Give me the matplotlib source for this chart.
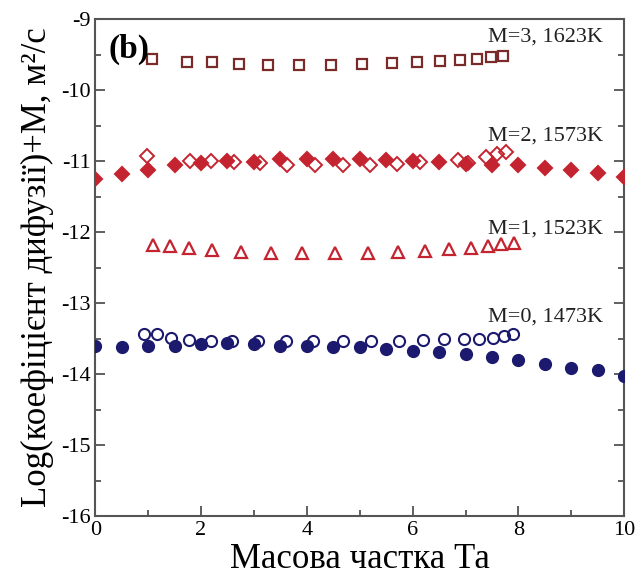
import numpy as np
import matplotlib
matplotlib.use("Agg")
import matplotlib.pyplot as plt
from matplotlib.ticker import MultipleLocator

plt.rcParams['font.family'] = ['Liberation Serif', 'DejaVu Serif']
plt.rcParams['axes.unicode_minus'] = False

# M=0, 1473K
x_m0_fill = [0.0, 0.5, 1.0, 1.5, 2.0, 2.5, 3.0, 3.5, 4.0, 4.5, 5.0,
             5.5, 6.0, 6.5, 7.0, 7.5, 8.0, 8.5, 9.0, 9.5, 10.0]
y_m0_fill = [-13.60, -13.62, -13.60, -13.60, -13.57, -13.56, -13.57, -13.60, -13.61, -13.62, -13.62,
             -13.64, -13.67, -13.69, -13.71, -13.76, -13.80, -13.86, -13.91, -13.94, -14.02]
x_m0_open = [0.93, 1.17, 1.44, 1.78, 2.19, 2.59, 3.08, 3.61, 4.12, 4.69,
             5.21, 5.74, 6.19, 6.60, 6.97, 7.26, 7.52, 7.73, 7.90]
y_m0_open = [-13.44, -13.44, -13.49, -13.52, -13.53, -13.53, -13.54, -13.54, -13.54, -13.53,
             -13.53, -13.53, -13.52, -13.51, -13.51, -13.50, -13.49, -13.46, -13.44]

# M=1, 1523K
x_m1 = [1.10, 1.42, 1.78, 2.21, 2.75, 3.32, 3.90, 4.53, 5.15, 5.72,
        6.24, 6.68, 7.10, 7.43, 7.68, 7.92]
y_m1 = [-12.18, -12.20, -12.23, -12.25, -12.28, -12.30, -12.30, -12.30, -12.29, -12.28,
        -12.27, -12.24, -12.22, -12.20, -12.17, -12.16]

# M=2, 1573K
x_m2_fill = [0.0, 0.5, 1.0, 1.5, 2.0, 2.5, 3.0, 3.5, 4.0, 4.5, 5.0,
             5.5, 6.0, 6.5, 7.0, 7.5, 8.0, 8.5, 9.0, 9.5, 10.0]
y_m2_fill = [-11.25, -11.18, -11.12, -11.06, -11.02, -11.00, -11.01, -10.97, -10.97, -10.97, -10.97,
             -10.99, -11.00, -11.01, -11.04, -11.06, -11.06, -11.10, -11.13, -11.17, -11.22]
x_m2_open = [0.97, 1.80, 2.19, 2.63, 3.12, 3.63, 4.16, 4.68, 5.19, 5.71,
             6.14, 6.86, 7.05, 7.39, 7.59, 7.77]
y_m2_open = [-10.93, -11.00, -11.00, -11.01, -11.02, -11.05, -11.06, -11.06, -11.06, -11.04,
             -11.01, -10.99, -11.02, -10.94, -10.90, -10.87]

# M=3, 1623K
x_m3 = [1.07, 1.74, 2.20, 2.72, 3.27, 3.86, 4.45, 5.05, 5.61, 6.08,
        6.52, 6.90, 7.21, 7.48, 7.70]
y_m3 = [-9.56, -9.60, -9.61, -9.63, -9.64, -9.64, -9.64, -9.63, -9.62, -9.60,
        -9.59, -9.57, -9.56, -9.54, -9.52]

labels = ["M=0, 1473K", "M=1, 1523K", "M=2, 1573K", "M=3, 1623K"]
label_y = [-13.20, -11.95, -10.65, -9.25]

navy = "#1b1a6e"
red = "#c42430"
brown = "#7a2a28"

fig = plt.figure(figsize=(6.35, 5.78), dpi=100)
ax = fig.add_axes([0.150, 0.107, 0.833, 0.860])

ax.plot(x_m0_fill, y_m0_fill, "o", ms=8, mfc=navy, mec=navy, mew=1.5, zorder=3)
ax.plot(x_m0_open, y_m0_open, "o", ms=8, mfc="none", mec=navy, mew=1.5, zorder=4)
ax.plot(x_m1, y_m1, "^", ms=9, mfc="none", mec=red, mew=1.6)
ax.plot(x_m2_fill, y_m2_fill, "D", ms=7.5, mfc=red, mec=red, mew=1.5, zorder=3)
ax.plot(x_m2_open, y_m2_open, "D", ms=7.5, mfc="none", mec=red, mew=1.4, zorder=4)
ax.plot(x_m3, y_m3, "s", ms=7, mfc="none", mec=brown, mew=1.6)

for lab, ly in zip(labels, label_y):
    ax.text(9.6, ly, lab, ha="right", va="center", fontsize=16, color="#222222")

ax.text(0.025, 0.97, "(b)", transform=ax.transAxes, ha="left", va="top",
        fontsize=24, fontweight="bold")

ax.set_xlim(0, 10)
ax.set_ylim(-16, -9)
ax.xaxis.set_major_locator(MultipleLocator(2))
ax.xaxis.set_minor_locator(MultipleLocator(1))
ax.yaxis.set_major_locator(MultipleLocator(1))
ax.yaxis.set_minor_locator(MultipleLocator(0.5))
ax.tick_params(which="both", direction="in", right=True, top=False,
               labelsize=16, color="#444444", width=1.2)
ax.tick_params(which="major", length=7)
ax.tick_params(which="minor", length=4)
for sp in ax.spines.values():
    sp.set_color("#555555")
    sp.set_linewidth(1.5)

ax.set_xlabel("Масова частка Та", fontsize=25, labelpad=2)
ax.set_ylabel("Log(коефіцієнт дифузії)+M, м²/с", fontsize=25, labelpad=5)

fig.savefig("out.png", dpi=100)
